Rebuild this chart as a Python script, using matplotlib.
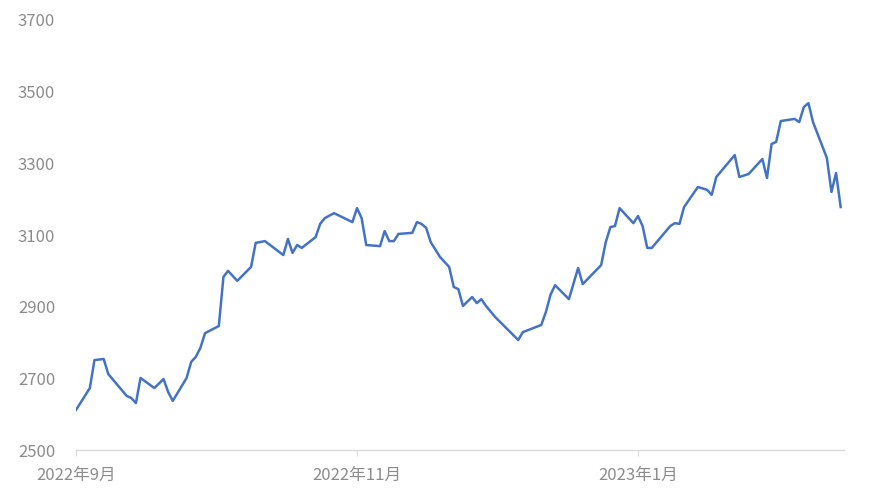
# coding = utf-8
import pandas as pd
from matplotlib import pyplot as plt

plt.rcParams['font.family'] = ['Noto Sans CJK JP', 'DejaVu Sans']

# 日付と終値
dates = [
    '2022-09-01', '2022-09-04', '2022-09-05', '2022-09-07', '2022-09-08',
    '2022-09-12', '2022-09-13', '2022-09-14', '2022-09-15', '2022-09-18',
    '2022-09-20', '2022-09-21', '2022-09-22', '2022-09-25', '2022-09-26',
    '2022-09-27', '2022-09-28', '2022-09-29', '2022-10-02', '2022-10-03',
    '2022-10-04', '2022-10-06', '2022-10-09', '2022-10-10', '2022-10-12',
    '2022-10-16', '2022-10-17', '2022-10-18', '2022-10-19', '2022-10-20',
    '2022-10-23', '2022-10-24', '2022-10-25', '2022-10-27', '2022-10-31',
    '2022-11-01', '2022-11-02', '2022-11-03', '2022-11-06', '2022-11-07',
    '2022-11-08', '2022-11-09', '2022-11-10', '2022-11-13', '2022-11-14',
    '2022-11-15', '2022-11-16', '2022-11-17', '2022-11-19', '2022-11-21',
    '2022-11-22', '2022-11-23', '2022-11-24', '2022-11-26', '2022-11-27',
    '2022-11-28', '2022-11-29', '2022-12-01', '2022-12-06', '2022-12-07',
    '2022-12-11', '2022-12-12', '2022-12-13', '2022-12-14', '2022-12-17',
    '2022-12-19', '2022-12-20', '2022-12-24', '2022-12-25', '2022-12-26',
    '2022-12-27', '2022-12-28', '2022-12-31', '2023-01-01', '2023-01-02',
    '2023-01-03', '2023-01-04', '2023-01-08', '2023-01-09', '2023-01-10',
    '2023-01-11', '2023-01-14', '2023-01-16', '2023-01-17', '2023-01-18',
    '2023-01-22', '2023-01-23', '2023-01-25', '2023-01-28', '2023-01-29',
    '2023-01-30', '2023-01-31', '2023-02-01', '2023-02-04', '2023-02-05',
    '2023-02-06', '2023-02-07', '2023-02-08', '2023-02-11', '2023-02-12',
    '2023-02-13', '2023-02-14',
]
values = [
    2612, 2673, 2751, 2754, 2712, 2651, 2645, 2631, 2701, 2673,
    2698, 2662, 2637, 2701, 2746, 2760, 2785, 2826, 2846, 2983,
    3000, 2972, 3011, 3078, 3083, 3044, 3089, 3050, 3072, 3064,
    3094, 3131, 3147, 3161, 3136, 3175, 3147, 3072, 3069, 3111,
    3083, 3083, 3103, 3106, 3136, 3131, 3120, 3080, 3039, 3011,
    2955, 2949, 2902, 2927, 2910, 2921, 2902, 2871, 2807, 2829,
    2849, 2885, 2933, 2960, 2921, 3008, 2963, 3016, 3080, 3122,
    3125, 3175, 3133, 3153, 3125, 3064, 3064, 3125, 3133, 3131,
    3178, 3234, 3226, 3212, 3262, 3323, 3262, 3270, 3312, 3259,
    3354, 3360, 3418, 3424, 3415, 3457, 3468, 3415, 3315, 3220,
    3273, 3178,
]
x_ticks = ['2022-09-01', '2022-11-01', '2023-01-01']
x_tick_labels = ['2022年9月', '2022年11月', '2023年1月']
y_ticks = list(range(2500, 3701, 200))

dates = pd.to_datetime(dates)

fig = plt.figure(figsize=(8.7, 4.96), dpi=100)
ax = fig.add_axes([0.0874, 0.0927, 0.8826, 0.867])

ax.plot(dates, values, color='#4472C4', linewidth=1.8)

# x軸の範囲（9/1 から最終日の少し先まで）
ax.set_xlim(pd.Timestamp('2022-09-01'), pd.Timestamp('2022-09-01') + pd.Timedelta(days=166.7))
ax.set_ylim(2500, 3700)
ax.set_xticks(pd.to_datetime(x_ticks))
ax.set_xticklabels(x_tick_labels)
ax.set_yticks(y_ticks)

for s in ['top', 'right', 'left']:
    ax.spines[s].set_visible(False)
ax.spines['bottom'].set_color('#d9d9d9')
ax.spines['bottom'].set_linewidth(1)

ax.tick_params(axis='y', length=0, pad=15, labelsize=12, labelcolor='#8c8c8c')
ax.tick_params(axis='x', length=4, color='#d9d9d9', pad=8, labelsize=12, labelcolor='#8c8c8c')

plt.savefig('out.png')
